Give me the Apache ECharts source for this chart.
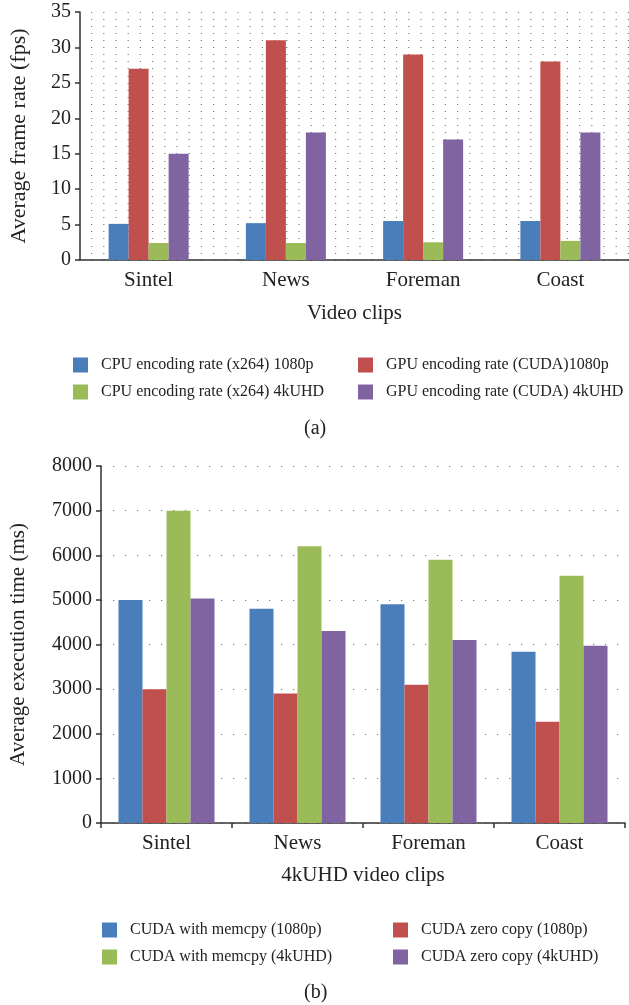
<!DOCTYPE html>
<html>
<head>
<meta charset="utf-8">
<script src="https://cdn.jsdelivr.net/npm/echarts@6.0.0/dist/echarts.min.js"></script>
<style>
  html, body { margin: 0; padding: 0; background: #fff; }
  #chart { width: 629px; height: 1005px; }
</style>
</head>
<body>
<div id="chart"></div>
<script>
// datos (a): velocidad de codificación
const clips = ['Sintel', 'News', 'Foreman', 'Coast'];
const cpu1080 = [5.1, 5.2, 5.5, 5.5];
const gpu1080 = [27, 31, 29, 28];
const cpu4k = [2.4, 2.4, 2.5, 2.7];
const gpu4k = [15, 18, 17, 18];

// datos (b): tiempo de ejecución
const memcpy1080 = [5000, 4800, 4900, 3840];
const zero1080 = [3000, 2900, 3100, 2270];
const memcpy4k = [7000, 6200, 5900, 5540];
const zero4k = [5030, 4300, 4100, 3970];

const FONT = 'Liberation Serif';
const BLUE = '#4a7ebb', RED = '#c0504d', GREEN = '#9bbb59', PURPLE = '#8064a2';

const chart = echarts.init(document.getElementById('chart'));

const dots = { color: '#777', width: 1.2, type: [1.2, 11], dashOffset: -11 };

const bar = (name, data, color, idx, w) => ({
  name, data, type: 'bar',
  xAxisIndex: idx, yAxisIndex: idx,
  barWidth: w, barGap: '0%',
  itemStyle: { color },
  emphasis: { disabled: true },
});

const legendCol = (names, left, top) => ({
  data: names,
  left, top,
  orient: 'vertical',
  padding: 0,
  itemWidth: 15, itemHeight: 15, itemGap: 11,
  icon: 'rect',
  selectedMode: false,
  textStyle: { fontFamily: FONT, fontSize: 16, color: '#222', padding: [0, 0, 0, 8], lineHeight: 15 },
});

const option = {
  animation: false,
  textStyle: { fontFamily: FONT },
  grid: [
    { left: 76, top: 12, width: 553, height: 248 },
    { left: 101, top: 466, width: 524, height: 357 },
  ],
  xAxis: [
    {
      type: 'category', gridIndex: 0, data: clips,
      name: 'Video clips', nameLocation: 'middle', nameGap: 43,
      nameTextStyle: { fontFamily: FONT, fontSize: 21, color: '#222' },
      axisLine: { lineStyle: { color: '#333', width: 1.5 } },
      axisTick: { show: false },
      axisLabel: { fontFamily: FONT, fontSize: 21, color: '#222', margin: 10 },
    },
    {
      type: 'category', gridIndex: 1, data: clips,
      name: '4kUHD video clips', nameLocation: 'middle', nameGap: 42,
      nameTextStyle: { fontFamily: FONT, fontSize: 21, color: '#222' },
      axisLine: { lineStyle: { color: '#333', width: 1.5 } },
      axisTick: { show: true, length: 5, lineStyle: { color: '#333', width: 1.5 } },
      axisLabel: { fontFamily: FONT, fontSize: 21, color: '#222', margin: 10 },
    },
  ],
  yAxis: [
    {
      type: 'value', gridIndex: 0, min: 0, max: 35, interval: 5,
      name: 'Average frame rate (fps)', nameLocation: 'middle', nameGap: 50,
      nameTextStyle: { fontFamily: FONT, fontSize: 22, color: '#222' },
      axisLine: { show: true, lineStyle: { color: '#333', width: 1.5 } },
      axisTick: { show: true, length: 5, lineStyle: { color: '#333', width: 1.5 } },
      axisLabel: { fontFamily: FONT, fontSize: 20, color: '#222', margin: 9 },
      splitLine: { show: true, lineStyle: dots },
      minorTick: { show: false, splitNumber: 5 },
      minorSplitLine: { show: true, lineStyle: dots },
    },
    {
      type: 'value', gridIndex: 1, min: 0, max: 8000, interval: 1000,
      name: 'Average execution time (ms)', nameLocation: 'middle', nameGap: 72,
      nameTextStyle: { fontFamily: FONT, fontSize: 21, color: '#222' },
      axisLine: { show: true, lineStyle: { color: '#333', width: 1.5 } },
      axisTick: { show: true, length: 5, lineStyle: { color: '#333', width: 1.5 } },
      axisLabel: { fontFamily: FONT, fontSize: 20, color: '#222', margin: 9, formatter: v => String(v) },
      splitLine: { show: true, lineStyle: { color: '#777', width: 1.2, type: [1.2, 10.8], dashOffset: -12 } },
    },
  ],
  legend: [
    legendCol(['CPU encoding rate (x264) 1080p', 'CPU encoding rate (x264) 4kUHD'], 73, 357),
    legendCol(['GPU encoding rate (CUDA)1080p', 'GPU encoding rate (CUDA) 4kUHD'], 358, 357),
    legendCol(['CUDA with memcpy (1080p)', 'CUDA with memcpy (4kUHD)'], 102, 922),
    legendCol(['CUDA zero copy (1080p)', 'CUDA zero copy (4kUHD)'], 393, 922),
  ],
  graphic: [
    { type: 'text', left: 304, top: 419, style: { text: '(a)', fontFamily: FONT, fontSize: 20, fill: '#222' } },
    { type: 'text', left: 304, top: 983, style: { text: '(b)', fontFamily: FONT, fontSize: 20, fill: '#222' } },
  ],
  series: [
    bar('CPU encoding rate (x264) 1080p', cpu1080, BLUE, 0, 20),
    bar('GPU encoding rate (CUDA)1080p', gpu1080, RED, 0, 20),
    bar('CPU encoding rate (x264) 4kUHD', cpu4k, GREEN, 0, 20),
    bar('GPU encoding rate (CUDA) 4kUHD', gpu4k, PURPLE, 0, 20),
    bar('CUDA with memcpy (1080p)', memcpy1080, BLUE, 1, 24),
    bar('CUDA zero copy (1080p)', zero1080, RED, 1, 24),
    bar('CUDA with memcpy (4kUHD)', memcpy4k, GREEN, 1, 24),
    bar('CUDA zero copy (4kUHD)', zero4k, PURPLE, 1, 24),
  ],
};

chart.setOption(option);
</script>
</body>
</html>
